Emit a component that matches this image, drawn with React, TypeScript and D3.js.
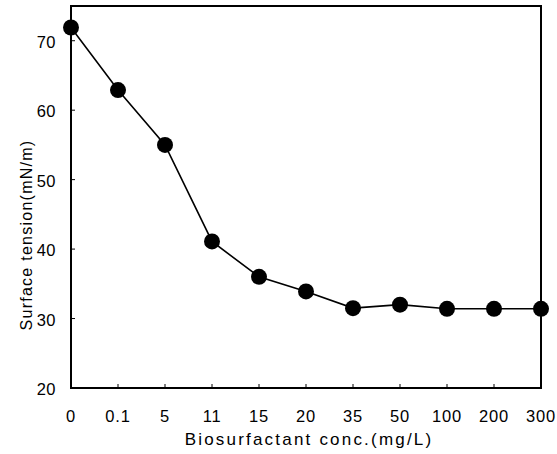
import React from "react";
import * as d3 from "d3";

const categories = ["0", "0.1", "5", "11", "15", "20", "35", "50", "100", "200", "300"];
const tensionValues = [71.9, 62.9, 55.0, 41.1, 36.0, 33.9, 31.5, 32.0, 31.4, 31.4, 31.4];
const yTicks = [20, 30, 40, 50, 60, 70];

const W = 557;
const H = 454;
const margin = { left: 71, right: 16, top: 6, bottom: 66 };

export default function App() {
  const x = d3
    .scalePoint<string>()
    .domain(categories)
    .range([margin.left, W - margin.right])
    .padding(0);
  const y = d3.scaleLinear().domain([20, 75]).range([H - margin.bottom, margin.top]);

  const line = d3
    .line<number>()
    .x((_, i) => x(categories[i]) as number)
    .y((d) => y(d));

  const font = "'Liberation Sans', Arial, Helvetica, sans-serif";
  const x0 = margin.left;
  const x1 = W - margin.right;
  const y0 = H - margin.bottom;
  const y1 = margin.top;

  return (
    <svg
      width={W}
      height={H}
      style={{ position: "absolute", left: 0, top: 0, background: "#fff" }}
      fontFamily={font}
    >
      <rect x={x0} y={y1} width={x1 - x0} height={y0 - y1} fill="none" stroke="#000" strokeWidth={2} />
      {yTicks.map((t) => (
        <g key={t}>
          <line x1={x0} x2={x0 + 4} y1={y(t)} y2={y(t)} stroke="#000" strokeWidth={1} />
          <text x={56} y={y(t) + 1} textAnchor="end" dominantBaseline="central" fontSize={16.5} letterSpacing={0.5}>
            {t}
          </text>
        </g>
      ))}
      {categories.map((c) => (
        <g key={c}>
          <line x1={x(c)} x2={x(c)} y1={y0} y2={y0 - 4} stroke="#000" strokeWidth={1} />
          <text x={x(c)} y={y0 + 34} textAnchor="middle" fontSize={16.5} letterSpacing={0.8}>
            {c}
          </text>
        </g>
      ))}
      <path d={line(tensionValues) || ""} fill="none" stroke="#000" strokeWidth={1.6} />
      {tensionValues.map((v, i) => (
        <circle key={i} cx={x(categories[i])} cy={y(v)} r={8} fill="#000" />
      ))}
      <text
        x={309}
        y={445}
        textAnchor="middle"
        fontSize={17}
        letterSpacing={2.2}
      >
        Biosurfactant conc.(mg/L)
      </text>
      <text
        transform={`translate(32, 235) rotate(-90)`}
        textAnchor="middle"
        fontSize={16}
        letterSpacing={1.25}
      >
        Surface tension(mN/m)
      </text>
    </svg>
  );
}
